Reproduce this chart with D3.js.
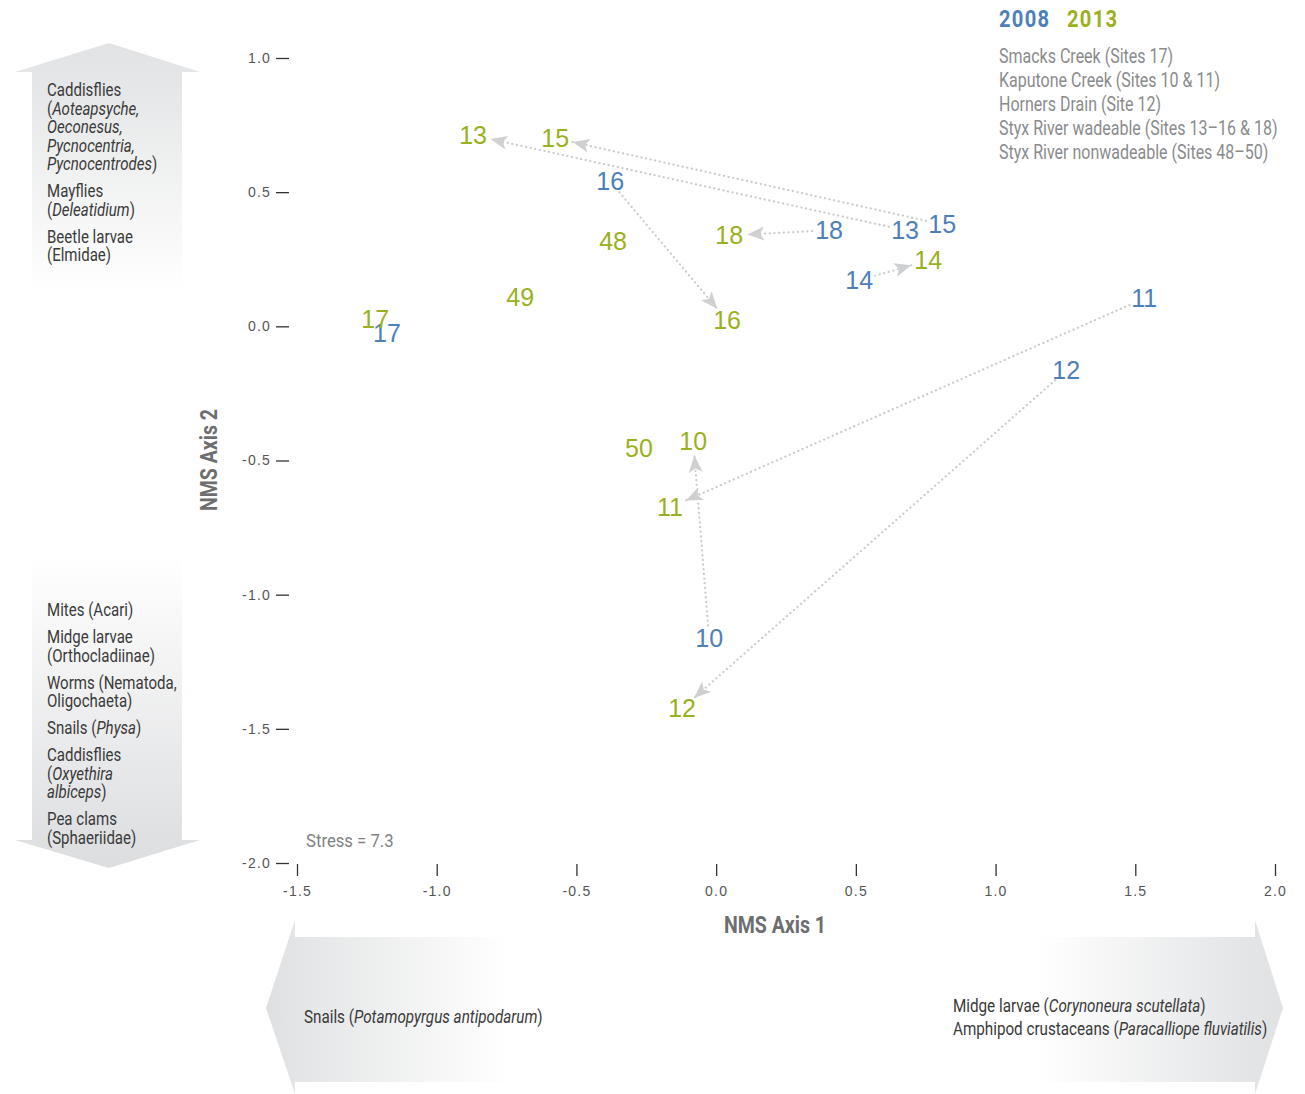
<!DOCTYPE html>
<html><head><meta charset="utf-8">
<script src="https://cdn.jsdelivr.net/npm/d3@7"></script>
<style>
body{margin:0;background:#fff;}
svg{display:block;}
.narrow{font-family:Roboto,"Liberation Sans",sans-serif;}
</style></head>
<body><svg id="chart" width="1305" height="1094"></svg>
<script>
// ---- data ----
const sites2008 = ["10","11","12","13","14","15","16","17","18"];
const x2008 = [-0.025, 1.532, 1.253, 0.676, 0.512, 0.809, -0.379, -1.178, 0.404];
const y2008 = [-1.163, 0.104, -0.164, 0.358, 0.171, 0.380, 0.540, -0.026, 0.358];
const sites2013 = ["10","11","12","13","14","15","16","17","18","48","49","50"];
const x2013 = [-0.082, -0.165, -0.122, -0.870, 0.759, -0.576, 0.039, -1.220, 0.047, -0.369, -0.701, -0.276];
const y2013 = [-0.429, -0.675, -1.424, 0.712, 0.246, 0.701, 0.022, 0.026, 0.339, 0.317, 0.108, -0.455];
const arrowSites = ["10","11","12","13","14","15","16","18"];
const xTicks = [-1.5,-1.0,-0.5,0.0,0.5,1.0,1.5,2.0];
const yTicks = [1.0,0.5,0.0,-0.5,-1.0,-1.5,-2.0];
const legendYears = ["2008","2013"];
const legendLines = ["Smacks Creek (Sites 17)","Kaputone Creek (Sites 10 & 11)","Horners Drain (Site 12)","Styx River wadeable (Sites 13\u201316 & 18)","Styx River nonwadeable (Sites 48\u201350)"];
// text parts alternate normal / italic
const upTaxa = [
  [["Caddisflies"],["(","Aoteapsyche,"],["","Oeconesus,"],["","Pycnocentria,"],["","Pycnocentrodes",")"]],
  [["Mayflies"],["(","Deleatidium",")"]],
  [["Beetle larvae"],["(Elmidae)"]]
];
const downTaxa = [
  [["Mites (Acari)"]],
  [["Midge larvae"],["(Orthocladiinae)"]],
  [["Worms (Nematoda,"],["Oligochaeta)"]],
  [["Snails (","Physa",")"]],
  [["Caddisflies"],["(","Oxyethira"],["","albiceps",")"]],
  [["Pea clams"],["(Sphaeriidae)"]]
];
const leftTaxa = [["Snails (","Potamopyrgus antipodarum",")"]];
const rightTaxa = [["Midge larvae (","Corynoneura scutellata",")"],["Amphipod crustaceans (","Paracalliope fluviatilis",")"]];

const BLUE = "#4d80b9", GREEN = "#9bb020";
const svg = d3.select("#chart");
const x = d3.scaleLinear().domain([-1.5, 2.0]).range([297, 1275]);
const y = d3.scaleLinear().domain([-2.0, 1.0]).range([863, 58]);

// ---- gradients ----
const defs = svg.append("defs");
const gv = defs.append("linearGradient").attr("id","gv").attr("x1",0).attr("y1",0).attr("x2",0).attr("y2",1);
[[0,"#e2e3e5"],[0.06,"#e6e7e8"],[0.3,"#ffffff"],[0.62,"#ffffff"],[1,"#dcdddf"]].forEach(s=>gv.append("stop").attr("offset",s[0]).attr("stop-color",s[1]));
const gh = defs.append("linearGradient").attr("id","gh").attr("x1",0).attr("y1",0).attr("x2",1).attr("y2",0);
[[0,"#dfe0e2"],[0.04,"#e5e6e7"],[0.24,"#ffffff"],[0.76,"#ffffff"],[0.97,"#e3e4e6"],[1,"#e1e2e4"]].forEach(s=>gh.append("stop").attr("offset",s[0]).attr("stop-color",s[1]));
defs.append("marker").attr("id","ah").attr("markerUnits","userSpaceOnUse")
  .attr("markerWidth",20).attr("markerHeight",16).attr("refX",17).attr("refY",7)
  .attr("orient","auto").attr("viewBox","0 0 20 16")
  .append("path").attr("d","M0,0 L17,7 L0,14 L4,7 Z").attr("fill","#cfd0d2").attr("stroke","none");

// ---- vertical double arrow ----
svg.append("path").attr("fill","url(#gv)")
  .attr("d","M109,43 L200,72 L182,72 L182,840 L200,840 L109,868 L15,840 L32,840 L32,72 L15,72 Z");
// ---- horizontal double arrow ----
svg.append("path").attr("fill","url(#gh)")
  .attr("d","M266,1008 L295,920 L295,937 L1255,937 L1255,920 L1283,1008 L1255,1094 L1255,1082 L295,1082 L295,1094 Z");

// condensed text: place via transform with horizontal squeeze
function ctext(g, xx, yy, sx){
  return g.append("text").attr("class","narrow").attr("transform",`translate(${xx},${yy}) scale(${sx},1)`);
}
function richText(g, parts, xx, yy, size, color, sx){
  const t = ctext(g,xx,yy,sx).attr("font-size",size).attr("fill",color);
  parts.forEach((p,i)=>{ if(p!=="") t.append("tspan").attr("font-style", i%2===1?"italic":"normal").text(p); });
  return t;
}
const tg = svg.append("g");
const TS = 0.86;
let yy = 96;
upTaxa.forEach(grp=>{ grp.forEach(line=>{ richText(tg,line,47,yy,17.5,"#3a3a3a",TS); yy+=18.5; }); yy+=8.5; });
yy = 616;
downTaxa.forEach(grp=>{ grp.forEach(line=>{ richText(tg,line,47,yy,17.5,"#3a3a3a",TS); yy+=18.5; }); yy+=8.5; });
richText(tg,leftTaxa[0],304,1023,17.5,"#3a3a3a",0.87);
rightTaxa.forEach((l,i)=>richText(tg,l,953,1012+i*23,17.5,"#3a3a3a",0.87));

// ---- axes ----
const xa = svg.append("g").attr("transform","translate(0,864)")
  .call(d3.axisBottom(x).tickValues(xTicks).tickSize(12).tickPadding(10).tickFormat(d3.format(".1f")));
const ya = svg.append("g").attr("transform","translate(289,0)")
  .call(d3.axisLeft(y).tickValues(yTicks).tickSize(13).tickPadding(5).tickFormat(d3.format(".1f")));
[xa,ya].forEach(a=>{
  a.select(".domain").remove();
  a.selectAll(".tick line").attr("stroke","#333").attr("stroke-width",1.3);
  a.selectAll(".tick text").attr("fill","#555").attr("font-size",14)
    .attr("font-family","'Liberation Sans',Arial,sans-serif").attr("letter-spacing","1.2px")
    .text(d=> d3.format(".1f")(d).replace("\u2212","-"));
});
ctext(svg,775,933,0.85).attr("text-anchor","middle")
  .attr("font-size",23).attr("font-weight","bold").attr("fill","#6d6e70").text("NMS Axis 1");
svg.append("g").attr("transform","translate(217,460) rotate(-90)").call(g=>
  ctext(g,0,0,0.85).attr("text-anchor","middle")
  .attr("font-size",23).attr("font-weight","bold").attr("fill","#6d6e70").text("NMS Axis 2"));
ctext(svg,306,847,0.88).attr("font-size",19).attr("fill","#808285").text("Stress = 7.3");

// ---- arrows ----
const idx08 = s=>sites2008.indexOf(s), idx13 = s=>sites2013.indexOf(s);
const ag = svg.append("g");
arrowSites.forEach(s=>{
  const i=idx08(s), j=idx13(s);
  const x0=x(x2008[i]), y0=y(y2008[i]), x1=x(x2013[j]), y1=y(y2013[j]);
  const dx=x1-x0, dy=y1-y0, L=Math.hypot(dx,dy);
  const ux=dx/L, uy=dy/L;
  const sh = (ax,ay)=> 1/Math.sqrt((ax/17)**2+(ay/13)**2);
  const s0=sh(ux,uy), s1=sh(ux,uy)+1;
  ag.append("line").attr("x1",x0+ux*s0).attr("y1",y0+uy*s0)
    .attr("x2",x1-ux*s1).attr("y2",y1-uy*s1)
    .attr("stroke","#c9cacc").attr("stroke-width",2.2).attr("stroke-linecap","round")
    .attr("stroke-dasharray","0.1 4.6").attr("marker-end","url(#ah)");
});

// ---- labels ----
const lg = svg.append("g").attr("font-family","'Liberation Sans',Arial,sans-serif").attr("font-size",25)
  .attr("text-anchor","middle").attr("dominant-baseline","central");
sites2008.forEach((s,i)=>lg.append("text").attr("x",x(x2008[i])).attr("y",y(y2008[i])).attr("fill",BLUE).text(s));
sites2013.forEach((s,i)=>lg.append("text").attr("x",x(x2013[i])).attr("y",y(y2013[i])).attr("fill",GREEN).text(s));

// ---- legend ----
const leg = svg.append("g");
ctext(leg,999,27,0.84).attr("font-size",24).attr("font-weight","bold").attr("letter-spacing","1.5px").attr("fill",BLUE).text(legendYears[0]);
ctext(leg,1067,27,0.84).attr("font-size",24).attr("font-weight","bold").attr("letter-spacing","1.5px").attr("fill",GREEN).text(legendYears[1]);
legendLines.forEach((l,i)=>ctext(leg,999,63+i*24,0.80).attr("font-size",20)
  .attr("fill","#8a8b8d").text(l));
</script></body></html>
